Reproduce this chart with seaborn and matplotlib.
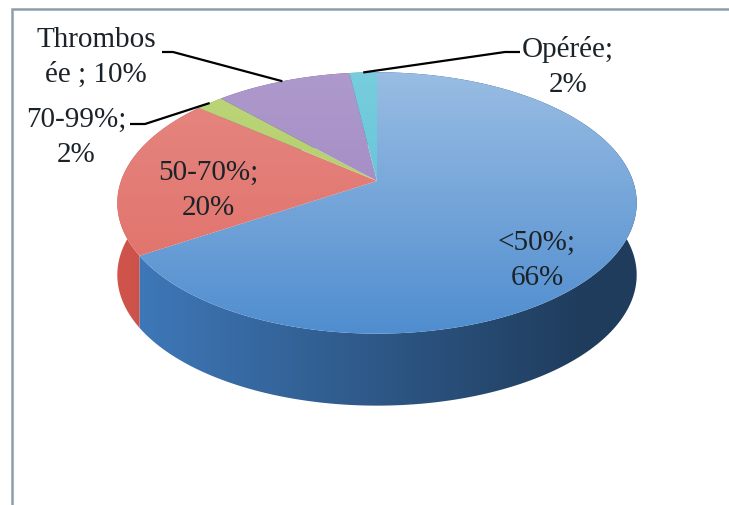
import numpy as np
import matplotlib
matplotlib.use("Agg")
import matplotlib.pyplot as plt
import seaborn as sns
from matplotlib.patches import Polygon
from matplotlib.colors import to_rgb

# ---- data -------------------------------------------------------------
categories = ["<50%", "50-70%", "70-99%", "Thrombosée", "Opérée"]
shares = [66, 20, 2, 10, 2]
label_lines = [["<50%;", "66%"],
               ["50-70%;", "20%"],
               ["70-99%;", "2%"],
               ["Thrombos", "ée ; 10%"],
               ["Opérée;", "2%"]]

# ---- styling ----------------------------------------------------------
sns.set_style("white")
palette = sns.color_palette(["#4f8dcf", "#e06d66", "#afcd62", "#9a80bf", "#55c0d4"])
side_palette = sns.color_palette(["#3f79ba", "#cd534b", "#93b44c", "#7f66a6", "#3fa6bd"])
highlight = [0.42, 0.18, 0.15, 0.2, 0.2]
plt.rcParams["font.family"] = ["Liberation Serif", "DejaVu Serif"]

W, H = 729, 506
fig = plt.figure(figsize=(W / 100, H / 100), dpi=100)
ax = fig.add_axes([0, 0, 1, 1])
ax.set_xlim(0, W)
ax.set_ylim(H, 0)
ax.axis("off")

# ---- 3-D pie geometry (pixel space, perspective tilt) -----------------
cx, cy = 377.0, 182.0      # projected centre of the top face
R, R2 = 256.0, 127.0       # horizontal / vertical radius
k = 0.168                  # perspective strength
depth = 72.0               # thickness of the pie on screen


def proj(theta_deg, drop=0.0):
    t = np.radians(theta_deg)
    X, Y = np.cos(t), -np.sin(t)
    w = 1.0 - k * Y
    return cx + R * X / w, cy + R2 * Y / w + drop


total = float(sum(shares))
bounds = 90.0 - 360.0 * np.concatenate([[0], np.cumsum(shares)]) / total

yy, xx = np.mgrid[0:H, 0:W]


def gradient_image(rgb_img, clip_poly):
    im = ax.imshow(rgb_img, extent=(0, W, H, 0), origin="upper",
                   interpolation="bilinear", zorder=2)
    im.set_clip_path(clip_poly)


# sides (drawn first, top faces cover the hidden parts)
for i in range(len(shares)):
    th = np.linspace(bounds[i], bounds[i + 1], 200)
    tx, ty = proj(th)
    bx, by = proj(th, depth)
    pts = np.column_stack([np.concatenate([tx, bx[::-1]]),
                           np.concatenate([ty, by[::-1]])])
    poly = Polygon(pts, closed=True, facecolor="none", edgecolor="none")
    ax.add_patch(poly)
    base = np.array(to_rgb(side_palette[i]))
    shade = np.clip(1.0 - 0.5 * (xx - 130) / 450.0, 0.5, 1.05)
    img = np.clip(base[None, None, :] * shade[..., None], 0, 1)
    gradient_image(img, poly)

# top faces with a vertical light gradient
for i in range(len(shares)):
    th = np.linspace(bounds[i], bounds[i + 1], 200)
    tx, ty = proj(th)
    pts = np.column_stack([np.concatenate([[cx], tx]),
                           np.concatenate([[cy], ty])])
    poly = Polygon(pts, closed=True, facecolor="none", edgecolor="none")
    ax.add_patch(poly)
    base = np.array(to_rgb(palette[i]))
    hi = highlight[i]
    mix = np.clip(hi * (1.0 - (yy - 73) / 262.0), 0, hi)
    img = base[None, None, :] * (1 - mix[..., None]) + mix[..., None]
    gradient_image(img, poly)

# ---- labels -----------------------------------------------------------
txt_kw = dict(fontsize=21, color="#1b2329", ha="center", va="baseline", zorder=5)
label_pos = [(537, 250), (208, 180), (76, 127), (96, 47), (568, 57)]
gap = 35
for (x, y), lines in zip(label_pos, label_lines):
    for j, s in enumerate(lines):
        ax.text(x, y + j * gap, s, **txt_kw)

# leader lines for the small outer slices
leaders = {2: (130, 125, 145), 3: (162, 53, 173), 4: (520, 53, 505)}
for i, (x0, y0, xe) in leaders.items():
    mid = 0.5 * (bounds[i] + bounds[i + 1])
    ex, ey = proj(mid)
    ax.plot([x0, xe, ex], [y0, y0, ey], color="black", lw=1.6,
            solid_capstyle="butt", zorder=4)

# chart frame
ax.plot([12, 12, W], [H, 10, 10], color="#8d9ea8", lw=1.8, zorder=6,
        solid_joinstyle="miter")

fig.savefig("out.png", dpi=100)
